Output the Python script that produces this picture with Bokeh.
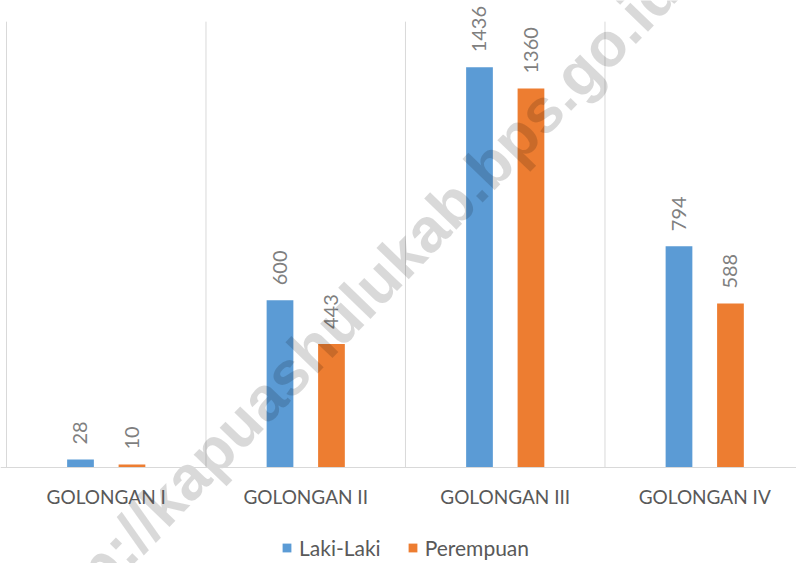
import numpy as np
from bokeh.plotting import figure
from bokeh.models import (Range1d, LinearAxis, FixedTicker, ColumnDataSource,
                          Legend, LegendItem)
from bokeh.core.properties import value
from bokeh.embed import file_html
from bokeh.resources import INLINE

# ---- data ----
categories = ["GOLONGAN I", "GOLONGAN II", "GOLONGAN III", "GOLONGAN IV"]
series_names = ["Laki-Laki", "Perempuan"]
laki_laki = [28, 600, 1436, 794]
perempuan = [10, 443, 1360, 588]
axis_max = 1600
watermark = "http://kapuashulukab.bps.go.id"

# ---- styling ----
BLUE = "#5B9BD5"
ORANGE = "#ED7D31"
GRID = "#D9D9D9"
FONT = "Lato"

n = len(categories)
centers = np.arange(n) + 0.5
boundaries = np.arange(n + 1)
offset = 0.129
bar_w = 0.134

p = figure(width=796, height=563,
           x_range=Range1d(-0.030, 3.960), y_range=Range1d(-345, 1676),
           output_backend="svg", toolbar_location=None,
           x_axis_location=None, y_axis_location=None,
           min_border=0, outline_line_color=None)
p.background_fill_color = "white"
p.border_fill_color = "white"
p.grid.visible = False

# category separators
p.segment(x0=boundaries, x1=boundaries, y0=0, y1=axis_max,
          line_color=GRID, line_width=1)

src_l = ColumnDataSource(dict(x=centers - offset, top=laki_laki,
                              lbl=[str(v) for v in laki_laki]))
src_p = ColumnDataSource(dict(x=centers + offset, top=perempuan,
                              lbl=[str(v) for v in perempuan]))

r1 = p.vbar(x="x", top="top", bottom=0, width=bar_w, source=src_l,
            fill_color=BLUE, line_color=None)
r2 = p.vbar(x="x", top="top", bottom=0, width=bar_w, source=src_p,
            fill_color=ORANGE, line_color=None)

for src in (src_l, src_p):
    p.text(x="x", y="top", text="lbl", source=src, angle=np.pi / 2,
           text_align="left", text_baseline="middle", y_offset=-15,
           text_font=value(FONT), text_font_size="20px", text_color="#7F7F7F")

# watermark
p.text(x=[1.72], y=[567], text=[watermark], angle=np.radians(46),
       text_align="center", text_baseline="middle",
       text_font=value("Liberation Sans"), text_font_style="bold",
       text_font_size="62px", text_color="black", text_alpha=0.15)

xaxis = LinearAxis(ticker=FixedTicker(ticks=list(centers)),
                   major_label_overrides={float(c): cat for c, cat in zip(centers, categories)},
                   fixed_location=0)
xaxis.axis_line_color = GRID
xaxis.axis_line_width = 1
xaxis.major_tick_line_color = None
xaxis.minor_tick_line_color = None
xaxis.major_label_standoff = 12
xaxis.major_label_text_font = FONT
xaxis.major_label_text_font_size = "19px"
xaxis.major_label_text_color = "#595959"
p.add_layout(xaxis, "below")

legend = Legend(items=[LegendItem(label=series_names[0], renderers=[r1]),
                       LegendItem(label=series_names[1], renderers=[r2])],
                location=(281, 3), orientation="horizontal",
                glyph_width=11, glyph_height=11, label_standoff=7, spacing=26,
                padding=0, margin=0, border_line_color=None,
                background_fill_alpha=0, label_height=14,
                label_text_font=FONT, label_text_font_size="21px",
                label_text_color="#595959")
p.add_layout(legend)

open("out.html", "w").write(file_html(p, INLINE))
